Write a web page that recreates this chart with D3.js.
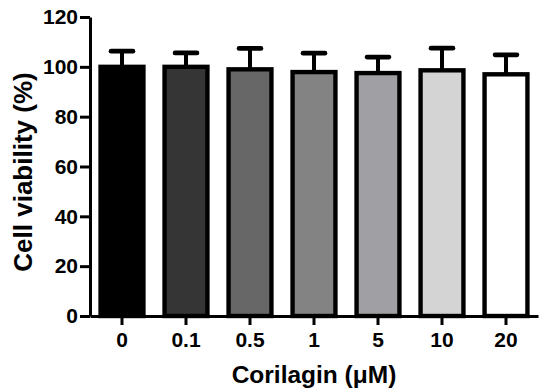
<!DOCTYPE html>
<meta charset="utf-8" />
<script src="https://d3js.org/d3.v7.min.js"></script>
<style>
  body { margin: 0; background: #fff; }
  text { font-family: "Liberation Sans", Arial, sans-serif; font-weight: bold; }
</style>
<body>
<div id="chart"></div>
<script>
  // data
  var doses = ["0", "0.1", "0.5", "1", "5", "10", "20"];
  var viability = [100, 100, 99, 97.9, 97.5, 98.6, 97];
  var sd = [6.3, 5.6, 8.4, 7.6, 6.4, 8.9, 7.8];
  var fills = ["#000000", "#353535", "#676767", "#838383", "#a0a0a4", "#d4d4d4", "#ffffff"];
  var yTicks = [0, 20, 40, 60, 80, 100, 120];

  var width = 550, height = 392;
  var margin = { top: 17, right: 12, bottom: 76, left: 90 };

  var svg = d3.select("#chart").append("svg")
    .attr("width", width)
    .attr("height", height);

  var x = d3.scaleBand()
    .domain(doses)
    .range([margin.left, width - margin.right])
    .paddingInner(0.33)
    .paddingOuter(0.165);

  var y = d3.scaleLinear()
    .domain([0, 120])
    .range([height - margin.bottom, margin.top]);

  var rows = doses.map(function (d, i) {
    return { dose: d, value: viability[i], err: sd[i], fill: fills[i] };
  });

  // error bars (only the upper half is visible)
  var eb = svg.append("g").attr("stroke", "#000");
  eb.selectAll("line.stem")
    .data(rows)
    .enter().append("line")
    .attr("x1", d => x(d.dose) + x.bandwidth() / 2)
    .attr("x2", d => x(d.dose) + x.bandwidth() / 2)
    .attr("y1", d => y(d.value))
    .attr("y2", d => y(d.value + d.err))
    .attr("stroke-width", 4);
  eb.selectAll("line.cap")
    .data(rows)
    .enter().append("line")
    .attr("x1", d => x(d.dose) + x.bandwidth() / 2 - 11)
    .attr("x2", d => x(d.dose) + x.bandwidth() / 2 + 11)
    .attr("y1", d => y(d.value + d.err))
    .attr("y2", d => y(d.value + d.err))
    .attr("stroke-width", 4.6)
    .attr("stroke-linecap", "round");

  // bars
  svg.append("g")
    .selectAll("rect")
    .data(rows)
    .enter().append("rect")
    .attr("x", d => x(d.dose))
    .attr("y", d => y(d.value))
    .attr("width", x.bandwidth())
    .attr("height", d => y(0) - y(d.value))
    .attr("fill", d => d.fill)
    .attr("stroke", "#000")
    .attr("stroke-width", 4.4);

  // axes
  var yAxis = svg.append("g")
    .attr("transform", "translate(" + margin.left + ",0)")
    .call(d3.axisLeft(y).tickValues(yTicks).tickSize(10).tickSizeOuter(0).tickPadding(2));

  var xAxis = svg.append("g")
    .attr("transform", "translate(0," + y(0) + ")")
    .call(d3.axisBottom(x).tickSize(9).tickSizeOuter(0).tickPadding(7));

  [yAxis, xAxis].forEach(function (g) {
    g.select(".domain").attr("stroke", "#000").attr("stroke-width", 3);
    g.selectAll(".tick line").attr("stroke", "#000").attr("stroke-width", 3);
    g.selectAll(".tick text")
      .attr("fill", "#000")
      .style("font-size", "21px")
      .style("font-family", "'Liberation Sans', Arial, sans-serif")
      .style("font-weight", "bold");
  });

  // axis titles
  svg.append("text")
    .attr("transform", "translate(32," + 172 + ") rotate(-90)")
    .attr("text-anchor", "middle")
    .style("font-size", "26px")
    .text("Cell viability (%)");

  svg.append("text")
    .attr("x", (margin.left + width - margin.right) / 2)
    .attr("y", 383)
    .attr("text-anchor", "middle")
    .style("font-size", "24.5px")
    .text("Corilagin (\u03bcM)");
</script>
</body>
